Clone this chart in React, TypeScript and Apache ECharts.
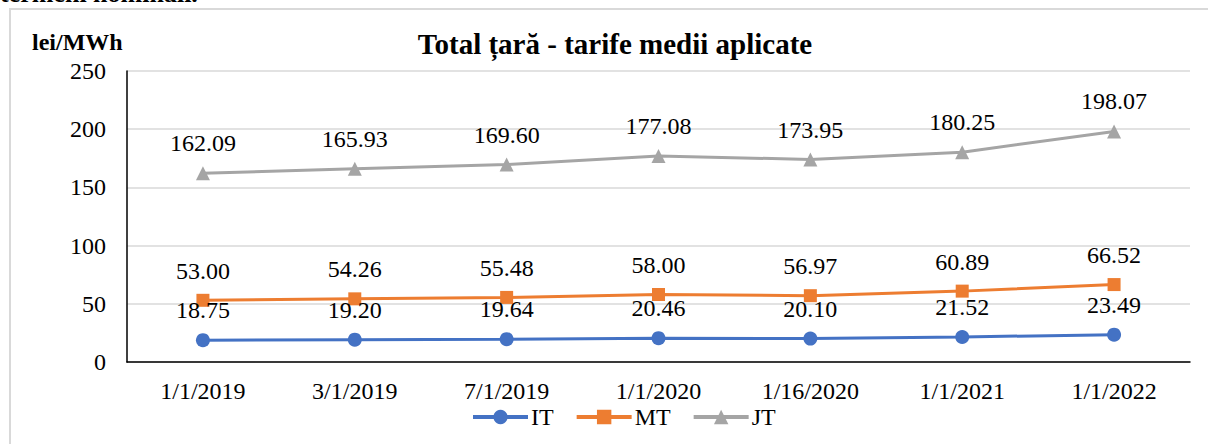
import React, { useEffect, useRef } from "react";
import * as echarts from "echarts";

const categories = ["1/1/2019", "3/1/2019", "7/1/2019", "1/1/2020", "1/16/2020", "1/1/2021", "1/1/2022"];
const itValues = [18.75, 19.2, 19.64, 20.46, 20.1, 21.52, 23.49];
const mtValues = [53.0, 54.26, 55.48, 58.0, 56.97, 60.89, 66.52];
const jtValues = [162.09, 165.93, 169.6, 177.08, 173.95, 180.25, 198.07];
const yTicks = { min: 0, max: 250, interval: 50 };

const FONT = "Liberation Serif";

export default function App() {
  const ref = useRef<HTMLDivElement>(null);
  useEffect(() => {
    if (!ref.current) return;
    const chart = echarts.init(ref.current, undefined, { renderer: "svg" });
    const mkSeries = (name: string, data: number[], color: string, symbol: string, size: number) => ({
      name,
      type: "line",
      data,
      symbol,
      symbolSize: size,
      itemStyle: { color },
      lineStyle: { color, width: 3 },
      label: {
        show: true,
        position: "top",
        distance: 11,
        formatter: (p: any) => Number(p.value).toFixed(2),
        fontFamily: FONT,
        fontSize: 24,
        color: "#000",
      },
    });
    chart.setOption({
      animation: false,
      textStyle: { fontFamily: FONT },
      grid: { left: 127, right: 18, top: 71, bottom: 82, containLabel: false },
      graphic: [
        {
          type: "rect",
          shape: { x: 10, y: 9, width: 1260, height: 500 },
          style: { fill: "none", stroke: "#d9d9d9", lineWidth: 2 },
          silent: true,
        },
        {
          type: "text",
          x: 0,
          y: 6,
          style: {
            text: "termeni nominali.",
            fontFamily: FONT,
            fontWeight: "bold",
            fontSize: 26,
            fill: "#000",
            textVerticalAlign: "bottom",
          },
        },
        {
          type: "text",
          x: 615,
          y: 44,
          style: {
            text: "Total țară - tarife medii aplicate",
            fontFamily: FONT,
            fontWeight: "bold",
            fontSize: 29,
            fill: "#000",
            textAlign: "center",
            textVerticalAlign: "middle",
          },
        },
        {
          type: "text",
          x: 32,
          y: 42,
          style: {
            text: "lei/MWh",
            fontFamily: FONT,
            fontWeight: "bold",
            fontSize: 24,
            fill: "#000",
            textVerticalAlign: "middle",
          },
        },
      ],
      legend: {
        left: 471,
        top: 405,
        padding: 0,
        itemWidth: 55,
        itemHeight: 18,
        itemGap: 21,
        lineStyle: { width: 4 },
        textStyle: {
          fontFamily: FONT,
          fontSize: 24,
          lineHeight: 18,
          color: "#000",
          padding: [0, 0, 0, -2],
        },
        data: ["IT", "MT", "JT"],
      },
      xAxis: {
        type: "category",
        data: categories,
        boundaryGap: true,
        axisLine: { lineStyle: { color: "#000", width: 1.5 } },
        axisTick: { show: false },
        axisLabel: { fontFamily: FONT, fontSize: 24, lineHeight: 18, color: "#000", margin: 20 },
      },
      yAxis: {
        type: "value",
        min: yTicks.min,
        max: yTicks.max,
        interval: yTicks.interval,
        axisLine: { show: true, lineStyle: { color: "#000", width: 1.5 } },
        axisTick: { show: false },
        splitLine: { lineStyle: { color: "#d9d9d9", width: 1.5 } },
        axisLabel: { fontFamily: FONT, fontSize: 24, color: "#000", margin: 21 },
      },
      series: [
        mkSeries("IT", itValues, "#4472C4", "circle", 14),
        mkSeries("MT", mtValues, "#ED7D31", "rect", 13),
        mkSeries("JT", jtValues, "#A5A5A5", "triangle", 14),
      ],
    });
    return () => chart.dispose();
  }, []);
  return (
    <div
      ref={ref}
      style={{ position: "fixed", left: 0, top: 0, width: 1208, height: 444, background: "#fff" }}
    />
  );
}
